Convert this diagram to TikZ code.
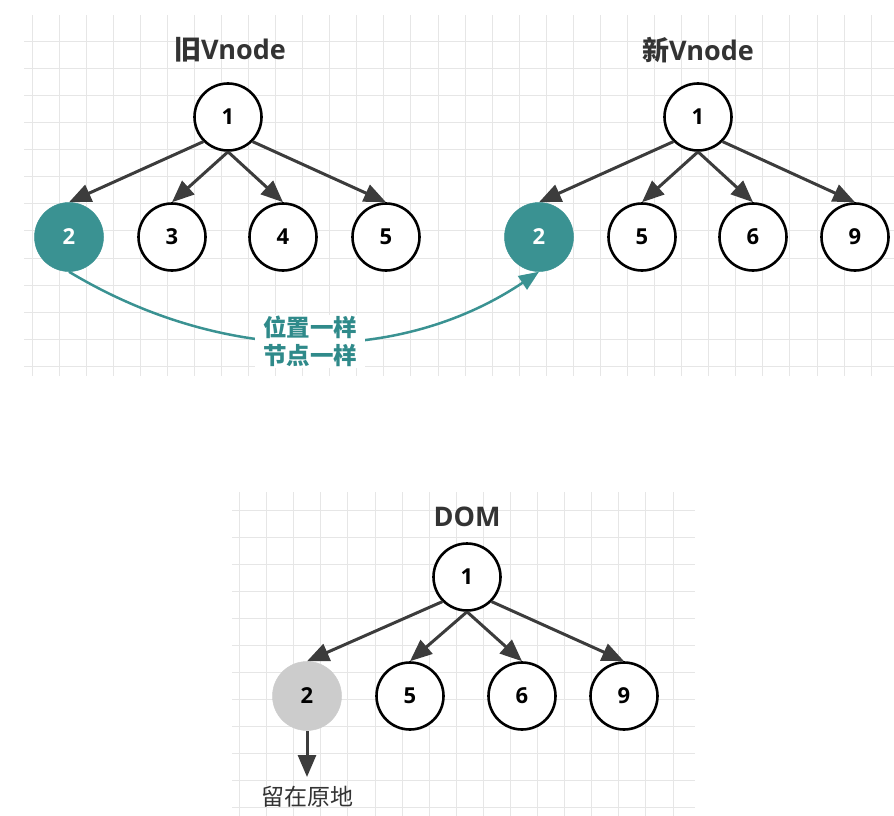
\documentclass[tikz,border=0pt]{standalone}
\usepackage{fontspec}
\setmainfont{Open Sans}
\newfontfamily\cjk{Noto Sans CJK SC}
\usetikzlibrary{arrows.meta}
\definecolor{tealc}{HTML}{3A9292}
\definecolor{tealtxt}{HTML}{2F8A8A}
\definecolor{arrc}{HTML}{3C3C3C}
\definecolor{gridc}{HTML}{E6E6E6}
\definecolor{graynode}{HTML}{CCCCCC}
\definecolor{txtc}{HTML}{333333}
\begin{document}
\begin{tikzpicture}[x=1pt,y=-1pt,
  vnode/.style={circle, draw=black, line width=2.6pt, fill=white, minimum size=67pt, inner sep=0pt,
    font=\fontsize{22}{26}\selectfont\bfseries, text=black},
  samenode/.style={vnode, draw=tealc, fill=tealc, text=white, line width=0.5pt, minimum size=69pt},
  oldnode/.style={vnode, draw=graynode, fill=graynode, line width=0.5pt, minimum size=69pt},
  edge/.style={draw=arrc, line width=3pt, -{Triangle[length=22pt,width=18pt]}},
  tealedge/.style={draw=tealc, line width=2.5pt, -{Triangle[length=20pt,width=16pt]}},
  titletext/.style={font=\fontsize{27}{32}\selectfont\bfseries, text=txtc},
  gridline/.style={draw=gridc, line width=1pt}]
\useasboundingbox (0,0) rectangle (894,816);
% top grid
\foreach \i in {0,...,31} { \draw[gridline] ({32+27.07*\i},15) -- ({32+27.07*\i},376); }
\foreach \j in {0,...,12} { \draw[gridline] (24,{41.5+27.07*\j}) -- (894,{41.5+27.07*\j}); }
% bottom grid
\foreach \i in {0,...,16} { \draw[gridline] ({239.6+27.09*\i},492) -- ({239.6+27.09*\i},816); }
\foreach \j in {0,...,11} { \draw[gridline] (232,{510+27.09*\j}) -- (695,{510+27.09*\j}); }

% titles
\node[titletext] (t1) at (230,50) {{\cjk 旧}Vnode};
\node[titletext] (t2) at (698,50) {{\cjk 新}Vnode};
\node[titletext] (t3) at (467,517) {DOM};

% old vnode tree
\node[vnode] (a1) at (228,117) {1};
\node[samenode] (a2) at (69,237) {2};
\node[vnode] (a3) at (172,237) {3};
\node[vnode] (a4) at (283,237) {4};
\node[vnode] (a5) at (386,237) {5};
\draw[edge] (a1.south west) -- (a2.north);
\draw[edge] (a1.south) -- (a3.north);
\draw[edge] (a1.south) -- (a4.north);
\draw[edge] (a1.south east) -- (a5.north);

% new vnode tree
\node[vnode] (b1) at (698,117) {1};
\node[samenode] (b2) at (539,237) {2};
\node[vnode] (b5) at (642,237) {5};
\node[vnode] (b6) at (753,237) {6};
\node[vnode] (b9) at (855,237) {9};
\draw[edge] (b1.south west) -- (b2.north);
\draw[edge] (b1.south) -- (b5.north);
\draw[edge] (b1.south) -- (b6.north);
\draw[edge] (b1.south east) -- (b9.north);

% teal connector
\draw[tealedge] (a2.south) .. controls (224,365) and (400,365) .. (b2.south)
  node[pos=0.5, fill=white, text=tealtxt, align=center, inner xsep=8pt, inner ysep=1pt,
       font=\cjk\fontsize{23.5}{28}\selectfont\bfseries] (lbl) {位置一样\\节点一样};

% DOM tree
\node[vnode] (c1) at (467,577) {1};
\node[oldnode] (c2) at (307,696) {2};
\node[vnode] (c5) at (410,696) {5};
\node[vnode] (c6) at (522,696) {6};
\node[vnode] (c9) at (624,696) {9};
\draw[edge] (c1.south west) -- (c2.north);
\draw[edge] (c1.south) -- (c5.north);
\draw[edge] (c1.south) -- (c6.north);
\draw[edge] (c1.south east) -- (c9.north);
\coordinate (c2end) at (307,777);
\draw[edge] (c2.south) -- (c2end);
\node[font=\cjk\fontsize{23}{26}\selectfont, text=txtc] (stay) at (307,797) {留在原地};
\end{tikzpicture}
\end{document}
